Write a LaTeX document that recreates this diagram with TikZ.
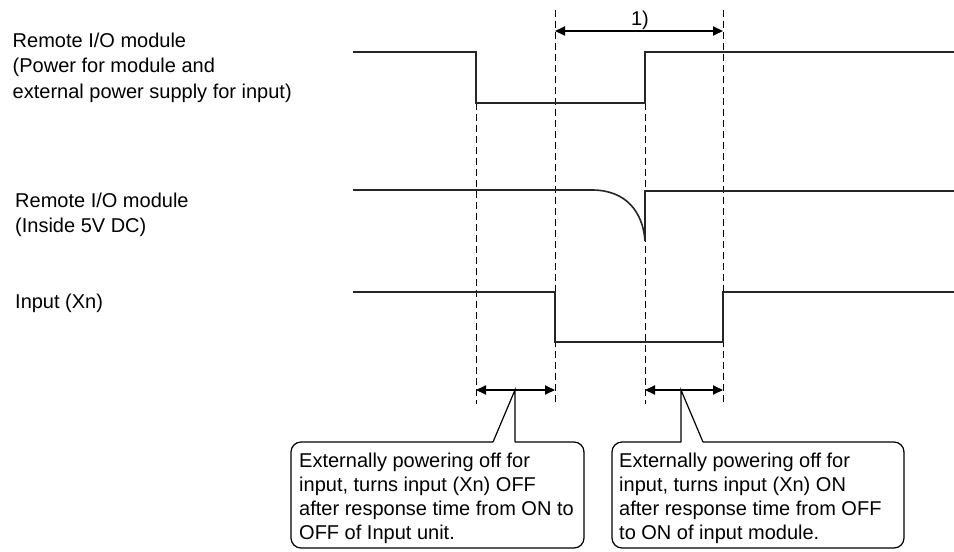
\documentclass[tikz,border=0pt]{standalone}
\usepackage{fontspec}
\setmainfont{Liberation Sans}
\usetikzlibrary{arrows.meta}
\begin{document}
\begin{tikzpicture}[x=1pt,y=-1pt,
  sig/.style={line width=1.6pt, black!85, line join=miter},
  guide/.style={line width=0.9pt, dash pattern=on 7pt off 4pt},
  dimarrow/.style={line width=1.8pt, {Triangle[length=10pt,width=9pt]}-{Triangle[length=10pt,width=9pt]}},
  lbl/.style={font=\fontsize{20}{25.5}\selectfont, anchor=north west, inner sep=0pt, align=left},
  btxt/.style={font=\fontsize{20}{24}\selectfont, anchor=north west, inner sep=0pt, align=left},
  frame/.style={line width=1.2pt, rounded corners=10pt},
  pointer/.style={line width=1.2pt, line join=miter}]
\useasboundingbox (0,0) rectangle (954,552);

% signal labels
\node[lbl] (lab1) at (12.5,32.5) {Remote I/O module\\(Power for module and\\external power supply for input)};
\node[lbl] (lab2) at (15,192.5) {Remote I/O module\\(Inside 5V DC)};
\node[lbl] (lab3) at (15,293.5) {Input (Xn)};

% dashed guide lines
\coordinate (gAt) at (476,103);  \coordinate (gAb) at (476,404);
\coordinate (gBt) at (555,10);   \coordinate (gBb) at (555,404);
\coordinate (gCt) at (645,103);  \coordinate (gCb) at (645,404);
\coordinate (gDt) at (723,10);   \coordinate (gDb) at (723,404);
\draw[guide] (gAt) -- (gAb);
\draw[guide] (gBt) -- (gBb);
\draw[guide] (gCt) -- (gCb);
\draw[guide] (gDt) -- (gDb);

% signals
\draw[sig] (353,52) -- (476,52) -- (476,103) -- (645,103) -- (645,52) -- (954,52);
\draw[sig] (353,190) -- (592,190) .. controls (626,190) and (643,212) .. (645,241) -- (645,191) -- (954,191);
\draw[sig] (353,292) -- (555,292) -- (555,342) -- (723,342) -- (723,292) -- (954,292);

% interval 1)
\coordinate (d1a) at (555,31); \coordinate (d1b) at (723,31);
\draw[dimarrow] (d1a) -- (d1b);
\node[font=\fontsize{20}{24}\selectfont, anchor=base, inner sep=0pt] (one) at (640,25) {1)};

% response-time arrows
\coordinate (r1a) at (476,390); \coordinate (r1b) at (555,390);
\coordinate (r2a) at (645,390); \coordinate (r2b) at (723,390);
\draw[dimarrow] (r1a) -- (r1b);
\draw[dimarrow] (r2a) -- (r2b);

% left callout
\coordinate (lp) at (515,390);
\draw[frame] (493,442) -- (291,442) -- (291,548) -- (584,548) -- (584,442) -- (515,442);
\draw[pointer] (493,442) -- (lp) -- (515,442);
\node[btxt] (ltext) at (299,452.5) {Externally powering off for\\input, turns input (Xn) OFF\\after response time from ON to\\OFF of Input unit.};

% right callout
\coordinate (rp) at (681,390);
\draw[frame] (703,442) -- (904,442) -- (904,548) -- (612,548) -- (612,442) -- (681,442);
\draw[pointer] (703,442) -- (rp) -- (681,442);
\node[btxt] (rtext) at (619,452.5) {Externally powering off for\\input, turns input (Xn) ON\\after response time from OFF\\to ON of input module.};
\end{tikzpicture}
\end{document}
